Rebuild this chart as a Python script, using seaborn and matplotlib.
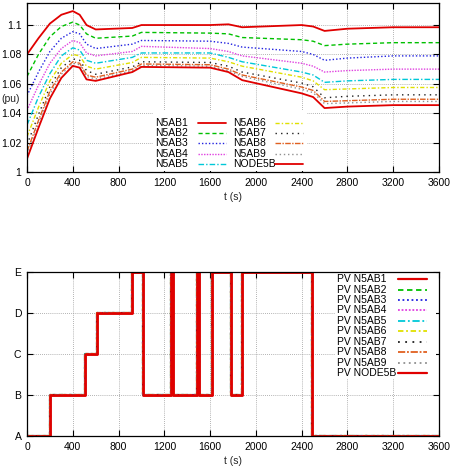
"""Bus voltages and PV tap states over one hour (gnuplot-style replica)."""

import matplotlib
matplotlib.use("Agg")
import matplotlib.pyplot as plt
from matplotlib.patches import Rectangle
import seaborn as sns

# ---- data -------------------------------------------------------------
T_KNOTS = [0, 100, 200, 300, 400, 460, 520, 600, 920, 1000, 1600, 1760,
           1880, 2400, 2500, 2600, 2800, 3200, 3600]

N5AB1 = [1.080, 1.091, 1.101, 1.107, 1.1095, 1.107, 1.100, 1.097, 1.098, 1.100,
         1.100, 1.1005, 1.0985, 1.100, 1.099, 1.096, 1.0975, 1.0985, 1.0985]
N5AB2 = [1.065, 1.080, 1.092, 1.099, 1.102, 1.100, 1.094, 1.091, 1.0925, 1.095,
         1.0945, 1.094, 1.0915, 1.090, 1.089, 1.086, 1.087, 1.088, 1.088]
N5AB3 = [1.052, 1.068, 1.082, 1.091, 1.0955, 1.094, 1.087, 1.084, 1.087, 1.0895,
         1.089, 1.0875, 1.085, 1.082, 1.080, 1.076, 1.0775, 1.079, 1.079]
N5AB4 = [1.042, 1.059, 1.074, 1.084, 1.0895, 1.088, 1.081, 1.079, 1.082, 1.0855,
         1.084, 1.082, 1.079, 1.074, 1.072, 1.068, 1.069, 1.070, 1.070]
N5AB5 = [1.032, 1.051, 1.067, 1.079, 1.0845, 1.083, 1.076, 1.074, 1.078, 1.081,
         1.081, 1.078, 1.075, 1.068, 1.066, 1.061, 1.062, 1.063, 1.063]
N5AB6 = [1.024, 1.044, 1.062, 1.074, 1.080, 1.079, 1.072, 1.070, 1.0745, 1.078,
         1.0775, 1.075, 1.072, 1.0645, 1.062, 1.056, 1.0565, 1.0575, 1.0575]
N5AB7 = [1.0185, 1.039, 1.058, 1.071, 1.077, 1.076, 1.069, 1.0665, 1.0715, 1.075,
         1.0745, 1.072, 1.068, 1.0605, 1.058, 1.0505, 1.0515, 1.0525, 1.0525]
N5AB8 = [1.014, 1.035, 1.055, 1.068, 1.075, 1.074, 1.066, 1.0645, 1.070, 1.0735,
         1.073, 1.070, 1.066, 1.0578, 1.0555, 1.048, 1.0485, 1.0495, 1.0495]
N5AB9 = [1.012, 1.033, 1.053, 1.0665, 1.074, 1.073, 1.065, 1.0633, 1.069, 1.0725,
         1.072, 1.069, 1.065, 1.0563, 1.054, 1.0465, 1.047, 1.048, 1.048]
NODE5B = [1.009, 1.030, 1.050, 1.064, 1.0722, 1.071, 1.063, 1.062, 1.068, 1.0715,
          1.071, 1.068, 1.0625, 1.0535, 1.051, 1.0435, 1.0445, 1.0455, 1.0455]

SERIES_NAMES = ["N5AB1", "N5AB2", "N5AB3", "N5AB4", "N5AB5",
                "N5AB6", "N5AB7", "N5AB8", "N5AB9", "NODE5B"]
VOLTAGES = [N5AB1, N5AB2, N5AB3, N5AB4, N5AB5,
            N5AB6, N5AB7, N5AB8, N5AB9, NODE5B]

# PV tap state (A..E), step changes (held until next time)
PV_TIMES = [0, 200, 510, 615, 920, 1010, 1260, 1275, 1485, 1500,
            1620, 1782, 1881, 2486, 3600]
PV_LEVELS = [0, 1, 2, 3, 4, 1, 4, 1, 4, 1, 4, 1, 4, 0, 0]
PV_TICK_LABELS = ["A", "B", "C", "D", "E"]

Y_TICKS = [1.0, 1.02, 1.04, 1.06, 1.08, 1.1]
X_TICKS = [0, 400, 800, 1200, 1600, 2000, 2400, 2800, 3200, 3600]

# ---- styles (gnuplot default line types) ------------------------------
COLORS = ["#e00000", "#00c000", "#2020e0", "#e040e0", "#00c8d8",
          "#e0e000", "#202020", "#e06020", "#909090", "#e00000"]
DASHES = ["-", (0, (3, 2)), (0, (1, 1.5)), (0, (1, 1)), (0, (4, 1.5, 1, 1.5)),
          (0, (3, 1.5, 1, 1.5)), (0, (1, 3)), (0, (4, 1, 1, 1)), (0, (1, 2)), "-"]
WIDTHS = [1.3, 1.0, 1.0, 1.0, 1.0, 1.0, 1.0, 1.0, 1.0, 1.3]

sns.set_theme(style="ticks")
plt.rcParams["font.family"] = ["Liberation Sans", "DejaVu Sans"]
plt.rcParams["font.size"] = 7.5


def style_axes(ax):
    ax.set_xlim(0, 3600)
    ax.set_xticks(X_TICKS)
    ax.grid(True, linestyle=(0, (1, 1.5)), color="#9a9a9a", linewidth=0.6)
    ax.tick_params(direction="in", top=True, right=True, length=4,
                   width=0.8, labelsize=7.5, pad=4, colors="black")
    for sp in ax.spines.values():
        sp.set_color("black")
        sp.set_linewidth(0.9)
    ax.set_xlabel("t (s)", fontsize=7.5, labelpad=3)
    ax.set_ylabel("")


def draw_key(ax, labels, x_text, x_line, y_top, dy, box, width_add=0.0):
    """gnuplot-like opaque key: left-aligned text followed by a line sample."""
    ax.add_patch(Rectangle(box[:2], box[2], box[3], transform=ax.transAxes,
                           facecolor="white", edgecolor="none", zorder=1))
    per_col = len(labels) if len(x_text) == 1 else 5
    for i, (lab, c, ls, lw) in enumerate(zip(labels, COLORS, DASHES, WIDTHS)):
        col, row = divmod(i, per_col)
        y = y_top - row * dy
        ax.text(x_text[col], y, lab, transform=ax.transAxes, ha="left",
                va="center", fontsize=7.5, color="black", zorder=3)
        ax.plot(x_line[col], [y, y], transform=ax.transAxes, color=c,
                linestyle=ls, linewidth=lw + width_add, clip_on=False, zorder=3)


fig = plt.figure(figsize=(4.54, 4.76), dpi=100)
ax1 = fig.add_axes([0.0595, 0.6387, 0.9075, 0.355])
ax2 = fig.add_axes([0.0595, 0.084, 0.9075, 0.3445])

# top: voltages
for name, vals, c, ls, lw in zip(SERIES_NAMES, VOLTAGES, COLORS, DASHES, WIDTHS):
    sns.lineplot(x=T_KNOTS, y=vals, ax=ax1, color=c, linestyle=ls,
                 linewidth=lw, estimator=None, sort=False, legend=False)

style_axes(ax1)
ax1.set_ylim(1.0, 1.115)
ax1.set_yticks(Y_TICKS)
ax1.set_yticklabels([f"{v:g}" for v in Y_TICKS])
fig.text(0.004, 1 - 99 / 476, "(pu)", fontsize=7.5, va="center", ha="left")
draw_key(ax1, SERIES_NAMES, x_text=[0.311, 0.500],
         x_line=[[0.415, 0.483], [0.602, 0.670]], y_top=0.290, dy=0.0607,
         box=(0.306, 0.006, 0.374, 0.36))
ax1.set_xlim(0, 3600)
ax1.set_ylim(1.0, 1.115)

# bottom: PV states
for name, c, ls, lw in zip(SERIES_NAMES, COLORS, DASHES, WIDTHS):
    sns.lineplot(x=PV_TIMES, y=PV_LEVELS, ax=ax2, color=c, linestyle=ls,
                 linewidth=lw + 0.5, estimator=None, sort=False,
                 drawstyle="steps-post", legend=False)

style_axes(ax2)
ax2.set_yticks(range(len(PV_TICK_LABELS)))
ax2.set_yticklabels(PV_TICK_LABELS)
draw_key(ax2, ["PV " + n for n in SERIES_NAMES], x_text=[0.752],
         x_line=[[0.900, 0.971]], y_top=0.957, dy=0.0637, width_add=0.3,
         box=(0.748, 0.35, 0.245, 0.645))
ax2.set_xlim(0, 3600)
ax2.set_ylim(0, 4)

fig.savefig("out.png", dpi=100)
